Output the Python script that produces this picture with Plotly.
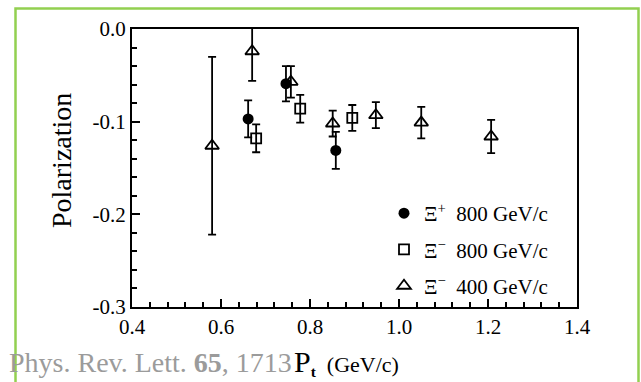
import plotly.graph_objects as go

# Xi polarization vs transverse momentum
pt_xip_800 = [0.661, 0.746, 0.858]
pol_xip_800 = [-0.097, -0.059, -0.131]
err_xip_800 = [0.020, 0.019, 0.020]

pt_xim_800 = [0.679, 0.778, 0.895]
pol_xim_800 = [-0.118, -0.086, -0.096]
err_xim_800 = [0.015, 0.015, 0.014]

pt_xim_400 = [0.580, 0.670, 0.757, 0.851, 0.948, 1.050, 1.207]
pol_xim_400 = [-0.126, -0.024, -0.057, -0.102, -0.093, -0.101, -0.116]
err_xim_400 = [0.096, 0.032, 0.017, 0.014, 0.014, 0.017, 0.018]

x_ticks = [0.4, 0.6, 0.8, 1.0, 1.2, 1.4]
x_tick_text = ["0.4", "0.6", "0.8", "1.0", "1.2", "1.4"]
y_ticks = [0.0, -0.1, -0.2, -0.3]
y_tick_text = ["0.0", "-0.1", "-0.2", "-0.3"]

SERIF = "Liberation Serif"
INK = "black"

# plot area in pixels
W, H = 641, 382
L, R, T, B = 132, 577, 29, 307
pw, ph = R - L, B - T


def px_x(px):
    return (px - L) / pw


def px_y(py):
    return (B - py) / ph


def err(vals):
    return dict(type="data", array=vals, visible=True, color=INK,
                thickness=1.8, width=4)


fig = go.Figure()
fig.add_trace(go.Scatter(
    x=pt_xip_800, y=pol_xip_800, error_y=err(err_xip_800), mode="markers",
    name="Ξ<sup>+</sup>\u2002800 GeV/c", legendgroup="a",
    marker=dict(symbol="circle", size=11, color=INK, line=dict(width=0)),
))
fig.add_trace(go.Scatter(
    x=pt_xim_800, y=pol_xim_800, error_y=err(err_xim_800), mode="markers",
    name="Ξ<sup>\u2212</sup>\u2002800 GeV/c", legendgroup="b",
    marker=dict(symbol="square-open", size=10, color=INK, line=dict(width=1.8)),
))
fig.add_trace(go.Scatter(
    x=pt_xim_400, y=pol_xim_400, error_y=err(err_xim_400), mode="markers",
    name="Ξ<sup>\u2212</sup>\u2002400 GeV/c", legendgroup="c",
    marker=dict(symbol="triangle-up-open", size=12, color=INK, line=dict(width=1.8)),
))

axis_common = dict(
    showline=True, linecolor=INK, linewidth=2, mirror=True,
    ticks="inside", ticklen=8, tickwidth=2, tickcolor=INK,
    showgrid=False, zeroline=False,
    tickfont=dict(family=SERIF, size=21, color=INK),
)

fig.update_layout(
    width=W, height=H,
    margin=dict(l=L, r=W - R, t=T, b=H - B, autoexpand=False),
    paper_bgcolor="white", plot_bgcolor="white",
    font=dict(family=SERIF, size=21, color=INK),
    showlegend=True,
    legend=dict(
        x=px_x(553), xanchor="right", y=px_y(306), yanchor="bottom",
        bgcolor="rgba(0,0,0,0)", borderwidth=0,
        font=dict(family=SERIF, size=21, color=INK),
        traceorder="grouped", tracegroupgap=6,
        itemwidth=30,
    ),
    xaxis=dict(
        range=[0.4, 1.4], tickvals=x_ticks, ticktext=x_tick_text,
        minor=dict(tick0=0.4, dtick=0.04, ticks="inside", ticklen=5,
                   tickwidth=1.5, tickcolor=INK),
        **axis_common,
    ),
    yaxis=dict(
        range=[-0.3, 0.0], tickvals=y_ticks, ticktext=y_tick_text,
        minor=dict(tick0=0.0, dtick=0.02, ticks="inside", ticklen=5,
                   tickwidth=1.5, tickcolor=INK),
        **axis_common,
    ),
)

# green frame around the figure
fig.add_shape(
    type="rect", xref="paper", yref="paper",
    x0=px_x(15.5), x1=px_x(638.5), y0=px_y(420), y1=px_y(8.5),
    line=dict(color="#92d050", width=2.5), fillcolor="rgba(0,0,0,0)",
    layer="below",
)

fig.add_annotation(
    text="Polarization", xref="paper", yref="paper",
    x=px_x(61), y=px_y(161), xanchor="center", yanchor="middle",
    textangle=-90, showarrow=False,
    font=dict(family=SERIF, size=28, color=INK),
)
fig.add_annotation(
    text='<span style="font-size:30px">P</span><sub><b>t</b></sub>\u2002(GeV/c)',
    xref="paper", yref="paper",
    x=px_x(292), y=px_y(362), xanchor="left", yanchor="middle",
    showarrow=False,
    font=dict(family=SERIF, size=22, color=INK),
)
fig.add_annotation(
    text="Phys. Rev. Lett. <b>65</b>, 1713",
    xref="paper", yref="paper",
    x=px_x(7), y=px_y(362), xanchor="left", yanchor="middle",
    showarrow=False,
    font=dict(family=SERIF, size=28, color="#9b9b9b"),
)

fig.write_html("out.html")
